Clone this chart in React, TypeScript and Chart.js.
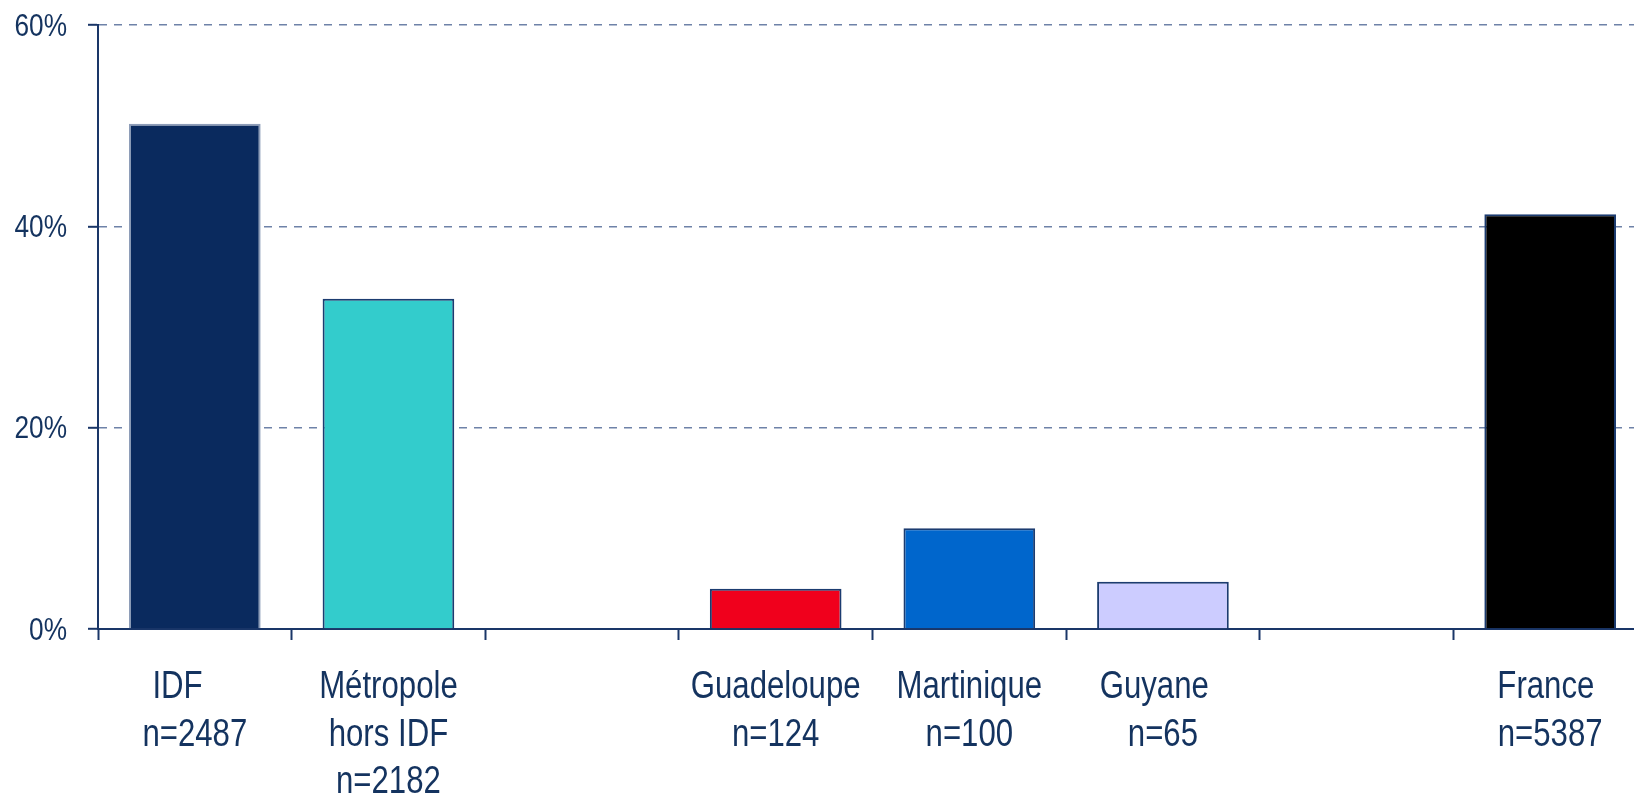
import React, { useEffect, useRef } from "react";
import { Chart, registerables } from "chart.js";

Chart.register(...registerables);

const categories: (string | string[])[] = [
  ["IDF    ", "n=2487"],
  ["Métropole", "hors IDF", "n=2182"],
  "",
  ["Guadeloupe", "n=124"],
  ["Martinique", "n=100"],
  ["Guyane  ", "n=65"],
  "",
  ["France ", "n=5387"],
];

const values: (number | null)[] = [50.2, 32.8, null, 4.0, 10.0, 4.7, null, 41.2];

const barColors = [
  "#0A2A5E",
  "#33CCCC",
  "#FFFFFF",
  "#F0001C",
  "#0066CC",
  "#CCCCFF",
  "#FFFFFF",
  "#000000",
];

const barBorders = [
  "#8E9DB8",
  "#1C3C70",
  "#1C3C70",
  "#1C3C70",
  "#1C3C70",
  "#1C3C70",
  "#1C3C70",
  "#1C3C70",
];

const yTicks = [0, 20, 40, 60];

const NAVY = "#1A3668";
const TEXT = "#14335F";
const FONT = "'Liberation Sans', Arial, sans-serif";
const NARROW = 0.82;

const narrowLabels = {
  id: "narrowLabels",
  afterDraw(chart: any) {
    const ctx = chart.ctx as CanvasRenderingContext2D;
    const xs = chart.scales.x;
    const ys = chart.scales.y;
    ctx.save();
    ctx.fillStyle = TEXT;
    // x labels
    ctx.font = `38px ${FONT}`;
    ctx.textAlign = "center";
    ctx.textBaseline = "alphabetic";
    const baseY = ys.getPixelForValue(0);
    chart.data.labels.forEach((lab: any, i: number) => {
      const lines = Array.isArray(lab) ? lab : [lab];
      const x = xs.getPixelForValue(i);
      lines.forEach((line: string, k: number) => {
        ctx.save();
        ctx.translate(x, baseY + 69 + k * 47.5);
        ctx.scale(NARROW, 1);
        ctx.fillText(line, 0, 0);
        ctx.restore();
      });
    });
    // y labels
    ctx.font = `32px ${FONT}`;
    ctx.textAlign = "right";
    yTicks.forEach((v) => {
      const y = ys.getPixelForValue(v);
      ctx.save();
      ctx.translate(ys.left + 67, y + 10.5);
      ctx.scale(NARROW, 1);
      ctx.fillText(v + "%", 0, 0);
      ctx.restore();
    });
    ctx.restore();
  },
};

export default function App() {
  const ref = useRef<HTMLCanvasElement | null>(null);

  useEffect(() => {
    if (!ref.current) return;
    const chart = new Chart(ref.current, {
      type: "bar",
      data: {
        labels: categories,
        datasets: [
          {
            data: values,
            backgroundColor: barColors,
            borderColor: barBorders,
            borderWidth: 2,
            barPercentage: 0.68,
            categoryPercentage: 1,
          },
        ],
      },
      plugins: [narrowLabels],
      options: {
        animation: false,
        responsive: true,
        maintainAspectRatio: false,
        layout: { padding: { left: 0, right: 13, top: 25, bottom: 0 } },
        plugins: { legend: { display: false }, tooltip: { enabled: false } },
        scales: {
          x: {
            offset: true,
            grid: {
              offset: true,
              drawOnChartArea: false,
              drawTicks: true,
              tickLength: 11,
              tickColor: NAVY,
              tickWidth: 2,
            },
            border: { display: true, color: NAVY, width: 2 },
            ticks: { display: false, autoSkip: false },
            afterFit: (scale: any) => {
              scale.height = 165;
            },
          },
          y: {
            min: 0,
            max: 60,
            afterBuildTicks: (scale: any) => {
              scale.ticks = yTicks.map((v) => ({ value: v }));
            },
            grid: {
              color: "#6E82A8",
              lineWidth: 1.6,
              tickLength: 10,
              tickColor: NAVY,
              tickWidth: 2,
              tickBorderDash: [],
            },
            border: { display: true, color: NAVY, width: 2, dash: [8, 7] },
            ticks: { display: false },
            afterFit: (scale: any) => {
              scale.width = 98;
            },
          },
        },
      },
    } as any);
    return () => chart.destroy();
  }, []);

  return (
    <div
      style={{
        position: "fixed",
        left: 0,
        top: 0,
        width: 1634,
        height: 794,
        overflow: "hidden",
        background: "#fff",
      }}
    >
      <div style={{ position: "relative", width: 1660, height: 794 }}>
        <canvas ref={ref} />
      </div>
    </div>
  );
}
